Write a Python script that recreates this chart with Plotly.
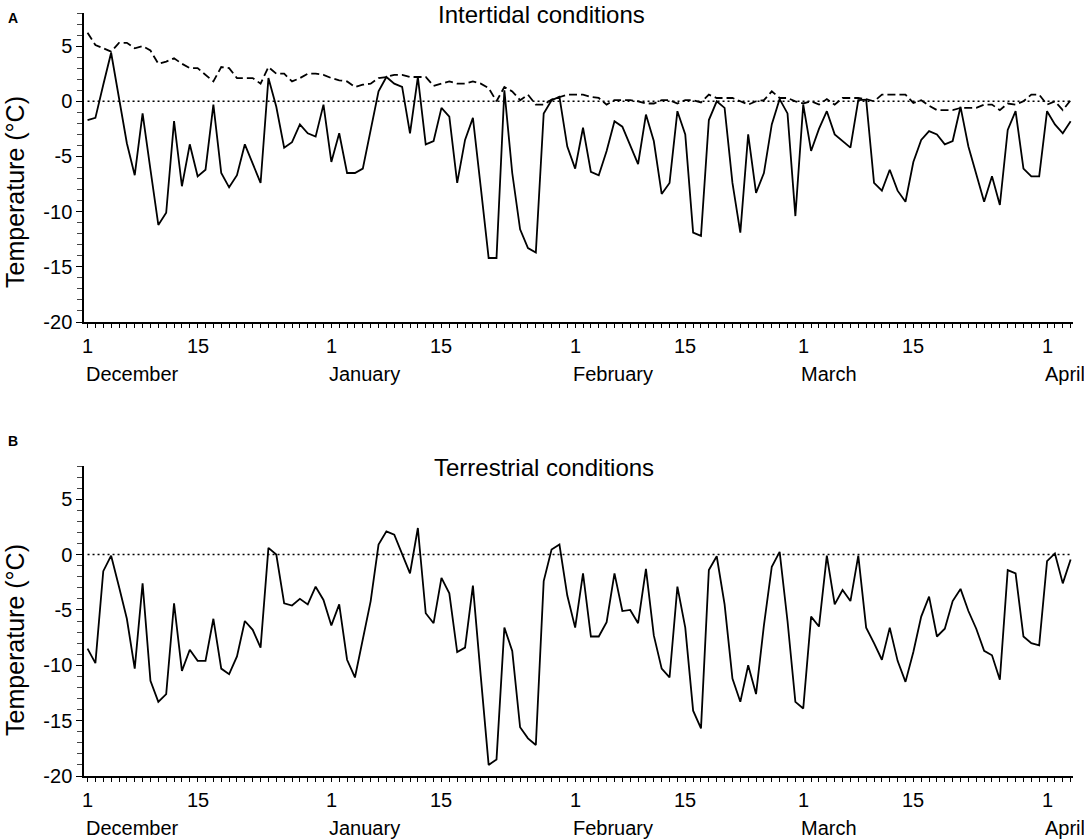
import plotly.graph_objects as go

# ---------------- data (one value per day, 1 Dec -> 4 Apr, leap winter) ----------------
days = list(range(126))

intertidal_solid = [
    -1.7, -1.5, 1.5, 4.4, 0.3, -3.8, -6.7, -1.1, -6.2, -11.2,
    -10.1, -1.8, -7.7, -3.9, -6.8, -6.2, -0.3, -6.5, -7.8, -6.7,
    -3.9, -5.6, -7.4, 2.1, -0.5, -4.2, -3.7, -2.1, -2.9, -3.2,
    -0.3, -5.5, -2.9, -6.5, -6.5, -6.1, -2.7, 0.9, 2.2, 1.6,
    1.3, -2.9, 2.2, -3.9, -3.6, -0.6, -1.4, -7.4, -3.5, -1.5,
    -7.8, -14.2, -14.2, 1.0, -6.5, -11.6, -13.3, -13.7, -1.1, 0.1,
    0.4, -4.1, -6.1, -2.4, -6.4, -6.7, -4.5, -1.8, -2.3, -4.0,
    -5.7, -1.2, -3.6, -8.4, -7.4, -0.9, -3.0, -11.9, -12.2, -1.7,
    0.0, -0.6, -7.4, -11.9, -3.0, -8.3, -6.5, -2.1, 0.2, -1.1,
    -10.4, -0.3, -4.5, -2.5, -0.9, -3.0, -3.6, -4.2, 0.1, 0.15,
    -7.4, -8.1, -6.2, -8.1, -9.1, -5.5, -3.5, -2.7, -3.0, -3.9,
    -3.6, -0.5, -4.1, -6.7, -9.1, -6.8, -9.4, -2.6, -0.9, -6.1,
    -6.8, -6.8, -0.9, -2.1, -2.9, -1.8,
]

intertidal_dashed = [
    6.2, 5.1, 4.8, 4.5, 5.3, 5.3, 4.8, 5.0, 4.6, 3.4,
    3.6, 3.9, 3.4, 3.0, 3.0, 2.4, 1.8, 3.1, 3.0, 2.1,
    2.1, 2.1, 1.6, 3.1, 2.5, 2.5, 1.8, 2.1, 2.5, 2.5,
    2.4, 2.1, 1.9, 1.8, 1.3, 1.5, 1.6, 2.1, 2.2, 2.4,
    2.4, 2.2, 2.2, 2.2, 1.4, 1.6, 1.8, 1.6, 1.6, 1.8,
    1.6, 1.2, 0.0, 1.3, 0.9, 0.1, 0.6, -0.3, -0.3, 0.15,
    0.4, 0.6, 0.6, 0.6, 0.4, 0.3, -0.3, 0.1, 0.1, 0.1,
    0.0, -0.2, -0.2, 0.1, 0.1, -0.2, 0.1, 0.1, -0.1, 0.6,
    0.3, 0.3, 0.3, 0.0, -0.3, 0.0, 0.1, 0.9, 0.3, 0.3,
    0.0, -0.2, 0.0, -0.3, 0.2, -0.3, 0.3, 0.3, 0.3, 0.2,
    0.0, 0.6, 0.6, 0.6, 0.6, -0.15, 0.1, -0.4, -0.8, -0.8,
    -0.8, -0.6, -0.6, -0.6, -0.3, -0.3, -0.8, -0.2, -0.3, 0.0,
    0.6, 0.6, -0.3, 0.0, -0.8, 0.1,
]

terrestrial = [
    -8.5, -9.8, -1.5, -0.1, -2.9, -5.8, -10.3, -2.6, -11.4, -13.3,
    -12.6, -4.4, -10.5, -8.6, -9.6, -9.6, -5.8, -10.3, -10.8, -9.2,
    -6.0, -6.8, -8.4, 0.6, 0.0, -4.4, -4.6, -4.0, -4.5, -2.9,
    -4.1, -6.4, -4.5, -9.5, -11.1, -7.8, -4.2, 0.9, 2.1, 1.8,
    0.1, -1.7, 2.4, -5.3, -6.2, -2.1, -3.5, -8.8, -8.4, -2.8,
    -11.0, -19.0, -18.5, -6.6, -8.7, -15.6, -16.6, -17.2, -2.4, 0.45,
    0.9, -3.7, -6.6, -1.7, -7.4, -7.4, -6.1, -1.7, -5.1, -5.0,
    -6.2, -1.3, -7.3, -10.3, -11.1, -2.9, -6.6, -14.1, -15.7, -1.4,
    -0.15, -4.5, -11.2, -13.3, -10.0, -12.6, -6.4, -1.1, 0.25, -6.0,
    -13.3, -13.9, -5.6, -6.5, -0.1, -4.5, -3.2, -4.2, -0.1, -6.6,
    -8.0, -9.5, -6.6, -9.6, -11.5, -8.8, -5.6, -3.8, -7.4, -6.7,
    -4.2, -3.1, -5.1, -6.7, -8.7, -9.1, -11.3, -1.4, -1.7, -7.4,
    -8.0, -8.2, -0.6, 0.1, -2.6, -0.45,
]

# tick labels (day index from 1 December; February has 29 days)
label_days = [0, 14, 31, 45, 62, 76, 91, 105, 122]
label_text = ["1", "15", "1", "15", "1", "15", "1", "15", "1"]
month_days = [0, 31, 62, 91, 122]
month_names = ["December", "January", "February", "March", "April"]
y_tickvals = [-20, -15, -10, -5, 0, 5]
panel_titles = ["Intertidal conditions", "Terrestrial conditions"]
panel_letters = ["A", "B"]
y_title = "Temperature (°C)"

# ---------------- figure ----------------
FONT = "Arial, 'Liberation Sans', Helvetica, sans-serif"
W, H = 1084, 840
ML, MR, MT, MB = 84, 11, 13, 64
PW, PH = W - ML - MR, H - MT - MB


def px_x(px):
    return (px - ML) / PW


def px_y(py):
    return (H - MB - py) / PH


fig = go.Figure()

line_solid = dict(color="black", width=1.8)
fig.add_trace(go.Scatter(x=days, y=intertidal_solid, mode="lines", line=line_solid,
                         xaxis="x", yaxis="y", showlegend=False, hoverinfo="skip"))
fig.add_trace(go.Scatter(x=days, y=intertidal_dashed, mode="lines",
                         line=dict(color="black", width=1.8, dash="8px,4px"),
                         xaxis="x", yaxis="y", showlegend=False, hoverinfo="skip"))
fig.add_trace(go.Scatter(x=days, y=terrestrial, mode="lines", line=line_solid,
                         xaxis="x2", yaxis="y2", showlegend=False, hoverinfo="skip"))

xr = [days[0] - 0.45, days[-1] + 0.3]
xaxis_common = dict(
    range=xr, showgrid=False, zeroline=False, showline=True, linecolor="black",
    linewidth=1.5, ticks="outside", ticklen=4, tickwidth=1, tickcolor="black",
    tickmode="array", tickvals=days, ticktext=[""] * len(days), fixedrange=True,
)
yaxis_common = dict(
    range=[-20, 8], showgrid=False, zeroline=False, showline=True, linecolor="black",
    linewidth=1.5, ticks="outside", ticklen=6, tickwidth=1, tickcolor="black",
    tickmode="array", tickvals=y_tickvals, ticktext=[str(v) for v in y_tickvals],
    tickfont=dict(family=FONT, size=20, color="black"), fixedrange=True,
    minor=dict(tickmode="linear", tick0=0, dtick=1, ticks="outside", ticklen=5,
               tickwidth=1, tickcolor="#444"),
)

dom_a = [px_y(322), 1.0]
dom_b = [0.0, px_y(466)]

fig.update_layout(
    width=W, height=H,
    margin=dict(l=ML, r=MR, t=MT, b=MB),
    paper_bgcolor="white", plot_bgcolor="white",
    font=dict(family=FONT, color="black"),
    xaxis=dict(xaxis_common, anchor="y"),
    yaxis=dict(yaxis_common, domain=dom_a, anchor="x"),
    xaxis2=dict(xaxis_common, anchor="y2"),
    yaxis2=dict(yaxis_common, domain=dom_b, anchor="x2"),
)

# zero reference lines (dotted)
for xref, yref in [("x", "y"), ("x2", "y2")]:
    fig.add_shape(type="line", xref=xref, yref=yref, x0=days[0], x1=days[-1], y0=0, y1=0,
                  line=dict(color="black", width=1.5, dash="2px,3px"), layer="below")

annotations = []
for xref, ydom in [("x", "y domain"), ("x2", "y2 domain")]:
    for d, t in zip(label_days, label_text):
        annotations.append(dict(x=d, y=0, xref=xref, yref=ydom, text=t, showarrow=False,
                                xanchor="center", yanchor="middle", yshift=-24,
                                font=dict(family=FONT, size=20, color="black")))
    for d, t in zip(month_days, month_names):
        annotations.append(dict(x=d, y=0, xref=xref, yref=ydom, text=t, showarrow=False,
                                xanchor="left", yanchor="middle", yshift=-52, xshift=-4,
                                font=dict(family=FONT, size=20, color="black")))

# panel titles
for t, (cx, cy) in zip(panel_titles, [(541, 0), (544, 453)]):
    annotations.append(dict(x=px_x(cx), y=px_y(cy), xref="paper", yref="paper", text=t,
                            showarrow=False, xanchor="center", yanchor="top", borderpad=0,
                            font=dict(family=FONT, size=24, color="black")))
# panel letters
for t, (cx, cy) in zip(panel_letters, [(13, 18), (13, 441)]):
    annotations.append(dict(x=px_x(cx), y=px_y(cy), xref="paper", yref="paper",
                            text="<b>" + t + "</b>", showarrow=False, xanchor="center",
                            yanchor="middle", font=dict(family=FONT, size=14, color="black")))
# y axis titles
for cy in [192, 640]:
    annotations.append(dict(x=px_x(15), y=px_y(cy), xref="paper", yref="paper", text=y_title,
                            textangle=-90, showarrow=False, xanchor="center", yanchor="middle",
                            font=dict(family=FONT, size=25, color="black")))

fig.update_layout(annotations=annotations)

fig.write_html("out.html", config={"displayModeBar": False},
               post_script="document.body.style.margin='0';document.body.style.padding='0';")
